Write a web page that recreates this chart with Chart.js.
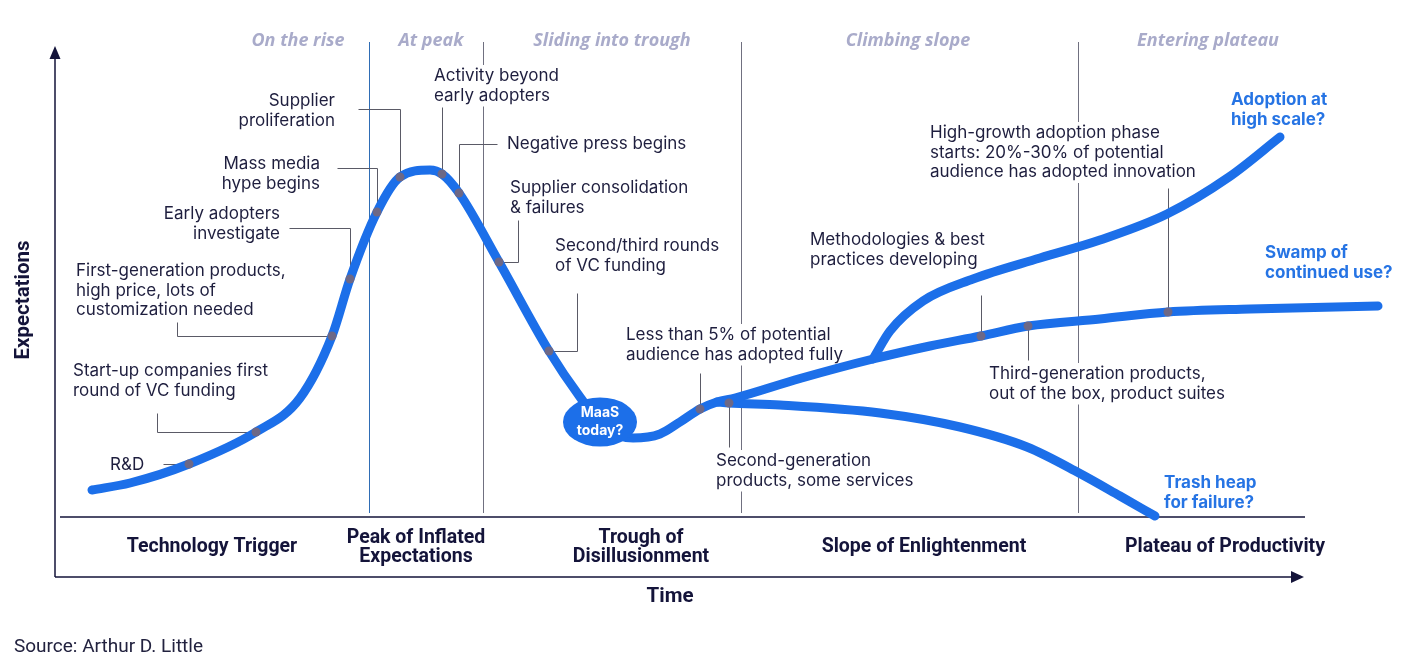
<!DOCTYPE html>
<html>
<head>
<meta charset="utf-8">
<title>MaaS hype cycle</title>
<script src="https://cdn.jsdelivr.net/npm/chart.js@4.4.1/dist/chart.umd.min.js"></script>
<style>
  html, body { margin: 0; padding: 0; background: #fff; }
  #wrap { width: 1408px; height: 668px; }
</style>
</head>
<body>
<div id="wrap"><canvas id="hype" width="1408" height="668"></canvas></div>
<script>
// Hype cycle for MaaS — time runs 0..135, expectations 0..100 (no real units)

// ----------------- Data ----------------
const curveTime = [3.7, 7.5, 13.4, 20.1, 24.5, 27.7, 29.5, 32.2, 34.5, 37.5, 38.7, 40.4, 44.4, 49.4,
  52.5, 55.0, 57.8, 60.5, 62.5, 64.5, 66.2, 68.0, 74.5, 81.8, 87.5, 92.6, 97.3, 104.5, 111.3, 119.5, 132.3];
const curveExpect = [17.4, 18.8, 22.6, 29.0, 35.8, 48.2, 59.6, 73.0, 80.0, 81.4, 80.6, 76.8, 63.0, 45.2,
  36.0, 29.8, 27.8, 28.6, 31.0, 33.6, 35.0, 35.8, 39.7, 43.6, 46.2, 48.2, 50.2, 51.6, 53.0, 53.6, 54.2];

const adoptionTime = [81.8, 83.5, 86.8, 91.8, 98.5, 104.5, 111.2, 117.4, 122.5];
const adoptionExpect = [43.6, 49.2, 55.2, 59.6, 63.8, 67.4, 72.6, 80.0, 88.0];

const trashTime = [66.2, 67.4, 72.5, 82.5, 90.5, 97.2, 102.4, 106.5, 110.0];
const trashExpect = [35.0, 34.8, 34.4, 32.8, 30.0, 26.0, 20.8, 16.2, 12.2];

const milestoneTime = [13.4, 20.1, 27.7, 29.5, 32.2, 34.5, 38.7, 40.4, 44.4, 49.4, 64.5, 67.4, 92.6, 97.3, 111.3];
const milestoneExpect = [22.6, 29.0, 48.2, 59.6, 73.0, 80.0, 80.6, 76.8, 63.0, 45.2, 33.6, 34.8, 48.2, 50.2, 53.0];

const todayTime = 54.5;
const todayExpect = 31.0;

const phaseNames = [["Technology Trigger"], ["Peak of Inflated", "Expectations"], ["Trough of", "Disillusionment"],
  ["Slope of Enlightenment"], ["Plateau of Productivity"]];
const phaseMid = [15.7, 36.1, 58.6, 86.9, 117.0];

const stageNames = ["On the rise", "At peak", "Sliding into trough", "Climbing slope", "Entering plateau"];
const stageMid = [24.3, 37.6, 55.7, 85.3, 115.3];

const dividerTime = [31.4, 42.8, 68.6, 102.3];

// ----------------- Layout of callouts (chart units) ----------------
const callouts = [
  { lines: ["R&D"], t: 5.5, e: 22.4 },
  { lines: ["Start-up companies first", "round of VC funding"], t: 1.8, e: 41.2 },
  { lines: ["First-generation products,", "high price, lots of", "customization needed"], t: 2.1, e: 61.2 },
  { lines: ["Early adopters", "investigate"], t: 22.5, e: 72.6, align: "right" },
  { lines: ["Mass media", "hype begins"], t: 26.5, e: 82.6, align: "right" },
  { lines: ["Supplier", "proliferation"], t: 28.0, e: 95.2, align: "right" },
  { lines: ["Activity beyond", "early adopters"], t: 37.9, e: 100.2 },
  { lines: ["Negative press begins"], t: 45.2, e: 86.6 },
  { lines: ["Supplier consolidation", "& failures"], t: 45.5, e: 77.8 },
  { lines: ["Second/third rounds", "of VC funding"], t: 50.0, e: 66.2 },
  { lines: ["Less than 5% of potential", "audience has adopted fully"], t: 57.1, e: 48.4 },
  { lines: ["Second-generation", "products, some services"], t: 66.1, e: 23.2 },
  { lines: ["Methodologies & best", "practices developing"], t: 75.5, e: 67.4 },
  { lines: ["High-growth adoption phase", "starts: 20%-30% of potential", "audience has adopted innovation"], t: 87.5, e: 88.8 },
  { lines: ["Third-generation products,", "out of the box, product suites"], t: 93.4, e: 40.6 }
];

const outcomes = [
  { lines: ["Adoption at", "high scale?"], t: 117.6, e: 95.4 },
  { lines: ["Swamp of", "continued use?"], t: 121.0, e: 64.8 },
  { lines: ["Trash heap", "for failure?"], t: 110.9, e: 18.8 }
];

const leaders = [
  [[10.8, 22.6], [13.4, 22.6]],
  [[10.2, 32.8], [10.2, 29.0], [20.1, 29.0]],
  [[12.2, 51.0], [12.2, 48.2], [27.7, 48.2]],
  [[23.4, 69.8], [29.5, 69.8], [29.5, 59.6]],
  [[28.2, 81.8], [32.2, 81.8], [32.2, 73.0]],
  [[30.3, 93.6], [34.5, 93.6], [34.5, 80.0]],
  [[38.7, 94.0], [38.7, 80.6]],
  [[44.2, 86.6], [40.4, 86.6], [40.4, 76.8]],
  [[46.3, 71.4], [46.3, 63.0], [44.4, 63.0]],
  [[52.2, 56.8], [52.2, 45.2], [49.4, 45.2]],
  [[64.5, 40.8], [64.5, 33.6]],
  [[67.4, 26.0], [67.4, 34.8]],
  [[92.6, 56.4], [92.6, 48.2]],
  [[97.3, 43.4], [97.3, 50.2]],
  [[111.3, 77.8], [111.3, 53.0]]
];

// ----------------- Styles ----------------
const BLUE = "#1c6fe9";
const NAVY = "#14143a";
const TEXT = "#1e1e3e";
const CALLOUT_FONT = "400 17px Inter, 'Noto Sans', sans-serif";
const OUTCOME_FONT = "700 17px Inter, 'Noto Sans', sans-serif";
const STAGE_FONT = "italic 700 18px 'Open Sans', sans-serif";
const PHASE_FONT = "700 19.5px Roboto, sans-serif";
const LINE_H = 19.5;

const toPoints = (ts, es) => ts.map((t, i) => ({ x: t, y: es[i] }));

function drawLines(ctx, lines, x, y, align) {
  ctx.textAlign = align || "left";
  lines.forEach((line, k) => ctx.fillText(line, x, y + k * LINE_H));
}

const hypeDecor = {
  id: "hypeDecor",
  beforeDatasetsDraw(chart) {
    const ctx = chart.ctx;
    const X = (v) => chart.scales.x.getPixelForValue(v);
    const Y = (v) => chart.scales.y.getPixelForValue(v);
    ctx.save();

    // Phase dividers
    dividerTime.forEach((t, i) => {
      const px = Math.round(X(t)) + 0.5;
      ctx.strokeStyle = i === 0 ? "#2f6db5" : "#707080";
      ctx.lineWidth = 1;
      ctx.beginPath();
      ctx.moveTo(px, Y(107));
      ctx.lineTo(px, Y(12.8));
      ctx.stroke();
    });

    // Knock dividers out behind callout text
    ctx.font = CALLOUT_FONT;
    ctx.fillStyle = "#fff";
    callouts.forEach((c) => {
      c.lines.forEach((line, k) => {
        const w = ctx.measureText(line).width;
        const x0 = c.align === "right" ? X(c.t) - w : X(c.t);
        ctx.fillRect(x0 - 3, Y(c.e) + k * LINE_H - 11, w + 6, 22);
      });
    });

    // Leader lines
    ctx.strokeStyle = "#5a5a66";
    ctx.lineWidth = 1;
    leaders.forEach((pts) => {
      ctx.beginPath();
      pts.forEach(([t, e], k) => {
        const px = Math.round(X(t)) + 0.5;
        const py = Math.round(Y(e)) + 0.5;
        if (k === 0) ctx.moveTo(px, py);
        else ctx.lineTo(px, py);
      });
      ctx.stroke();
    });

    // Axes + baseline
    ctx.strokeStyle = NAVY;
    ctx.fillStyle = NAVY;
    ctx.lineWidth = 1.5;
    ctx.beginPath();
    ctx.moveTo(X(0), Y(0));
    ctx.lineTo(X(0), Y(104));
    ctx.moveTo(X(0), Y(0));
    ctx.lineTo(X(123.8), Y(0));
    ctx.moveTo(X(0.5), Y(12));
    ctx.lineTo(X(125), Y(12));
    ctx.stroke();
    // arrow heads
    ctx.beginPath();
    ctx.moveTo(X(0), Y(106.2));
    ctx.lineTo(X(0) - 5.5, Y(103.6));
    ctx.lineTo(X(0) + 5.5, Y(103.6));
    ctx.closePath();
    ctx.fill();
    ctx.beginPath();
    ctx.moveTo(X(124.9), Y(0));
    ctx.lineTo(X(123.6), Y(0) - 6);
    ctx.lineTo(X(123.6), Y(0) + 6);
    ctx.closePath();
    ctx.fill();

    ctx.restore();
  },

  afterDatasetsDraw(chart) {
    // "MaaS today?" bubble on top of the trough
    const ctx = chart.ctx;
    const cx = chart.scales.x.getPixelForValue(todayTime);
    const cy = chart.scales.y.getPixelForValue(todayExpect);
    ctx.save();
    ctx.fillStyle = BLUE;
    ctx.beginPath();
    ctx.ellipse(cx, cy, 37, 24.5, 0, 0, Math.PI * 2);
    ctx.fill();
    ctx.fillStyle = "#fff";
    ctx.font = "700 14px Inter, sans-serif";
    ctx.textAlign = "center";
    ctx.textBaseline = "middle";
    ctx.fillText("MaaS", cx, cy - 9);
    ctx.fillText("today?", cx, cy + 9);
    ctx.restore();
  },

  afterDraw(chart) {
    const ctx = chart.ctx;
    const X = (v) => chart.scales.x.getPixelForValue(v);
    const Y = (v) => chart.scales.y.getPixelForValue(v);
    ctx.save();
    ctx.textBaseline = "middle";

    // Callouts
    ctx.font = CALLOUT_FONT;
    ctx.fillStyle = TEXT;
    callouts.forEach((c) => drawLines(ctx, c.lines, X(c.t), Y(c.e), c.align));

    // Outcome labels
    ctx.font = OUTCOME_FONT;
    ctx.fillStyle = "#2674e4";
    outcomes.forEach((c) => drawLines(ctx, c.lines, X(c.t), Y(c.e), "left"));

    // Stage labels along the top
    ctx.font = STAGE_FONT;
    ctx.fillStyle = "#a9abca";
    stageNames.forEach((s, i) => drawLines(ctx, [s], X(stageMid[i]), Y(107.2), "center"));

    // Phase labels under the baseline
    ctx.font = PHASE_FONT;
    ctx.fillStyle = NAVY;
    phaseNames.forEach((lines, i) => {
      const e = lines.length === 1 ? 6.0 : 7.8;
      drawLines(ctx, lines, X(phaseMid[i]), Y(e), "center");
    });

    // Axis titles
    ctx.font = "700 20.5px Roboto, sans-serif";
    drawLines(ctx, ["Time"], X(61.5), Y(-4), "center");
    ctx.save();
    ctx.translate(X(-3.1), Y(55.4));
    ctx.rotate(-Math.PI / 2);
    drawLines(ctx, ["Expectations"], 0, 0, "center");
    ctx.restore();

    // Source line
    ctx.font = "400 19px Roboto, sans-serif";
    ctx.fillStyle = "#22223f";
    drawLines(ctx, ["Source: Arthur D. Little"], X(-4.1), Y(-14), "left");

    ctx.restore();
  }
};

// ----------------- Chart ----------------
const curveStyle = {
  showLine: true,
  borderColor: BLUE,
  borderWidth: 9,
  borderCapStyle: "round",
  borderJoinStyle: "round",
  cubicInterpolationMode: "monotone",
  pointRadius: 0,
  clip: false
};

new Chart(document.getElementById("hype"), {
  type: "scatter",
  data: {
    datasets: [
      {
        label: "Milestones",
        data: toPoints(milestoneTime, milestoneExpect),
        pointRadius: 4.5,
        pointBackgroundColor: "#6d6886",
        pointBorderWidth: 0,
        showLine: false,
        clip: false
      },
      { label: "Hype cycle", data: toPoints(curveTime, curveExpect), ...curveStyle },
      { label: "Adoption at high scale", data: toPoints(adoptionTime, adoptionExpect), ...curveStyle },
      { label: "Trash heap", data: toPoints(trashTime, trashExpect), ...curveStyle }
    ]
  },
  options: {
    responsive: false,
    animation: false,
    events: [],
    layout: { padding: { left: 55, right: 3, top: 77, bottom: 91 }, autoPadding: false },
    plugins: { legend: { display: false }, tooltip: { enabled: false } },
    scales: {
      x: { type: "linear", min: 0, max: 135, display: false },
      y: { type: "linear", min: 0, max: 100, display: false }
    }
  },
  plugins: [hypeDecor]
});
</script>
</body>
</html>
